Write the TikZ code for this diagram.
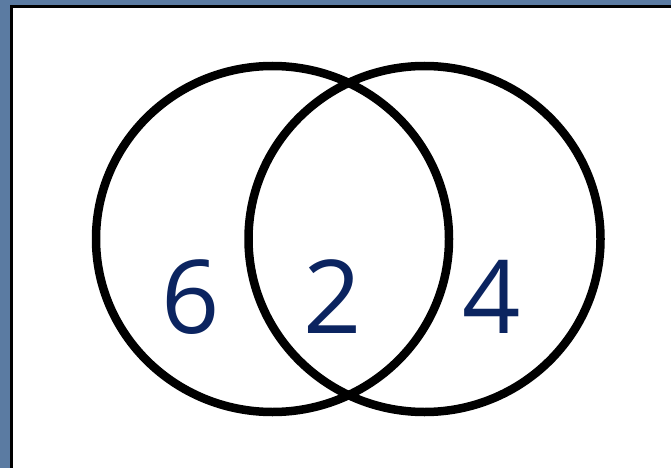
\documentclass[tikz,border=0pt]{standalone}
\usepackage{fontspec}
\setmainfont{Open Sans}
\definecolor{bgblue}{HTML}{5B7BA2}
\definecolor{numblue}{HTML}{0B2460}
\begin{document}
\begin{tikzpicture}[x=1pt,y=-1pt,
  ring/.style={draw=black,line width=8.5pt},
  num/.style={text=numblue,font=\fontsize{102}{102}\selectfont,inner sep=0pt,anchor=center}]
\useasboundingbox (0,0) rectangle (671,468);
\fill[bgblue] (0,0) rectangle (671,468);
\fill[black] (10,5) rectangle (671,468);
\fill[white] (12.5,8) rectangle (671,468);
\draw[ring] (272.5,239) ellipse [x radius=176.5, y radius=173];
\draw[ring] (424.5,239) ellipse [x radius=176, y radius=173];
\node[num] (six) at (191,297) {6};
\node[num] (two) at (333,297) {2};
\node[num] (four) at (492,297) {4};
\end{tikzpicture}
\end{document}
